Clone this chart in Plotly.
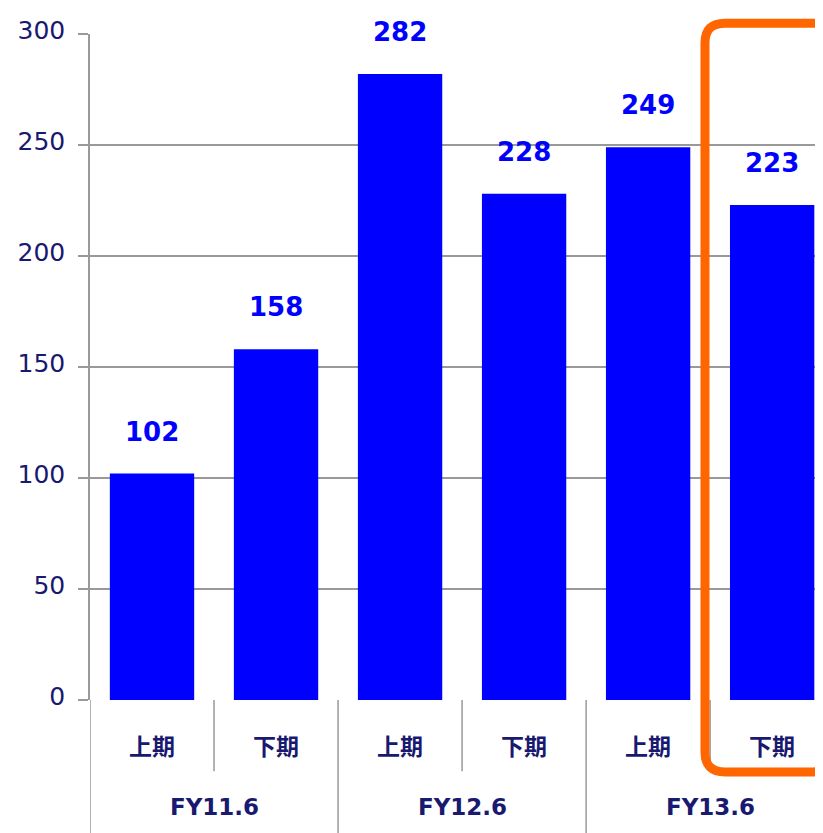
import plotly.graph_objects as go

periods = ["上期", "下期", "上期", "下期", "上期", "下期"]
years = ["FY11.6", "FY12.6", "FY13.6"]
values = [102, 158, 282, 228, 249, 223]

NAVY = "#191970"
GRID = "#999999"

x = list(range(len(values)))

fig = go.Figure()

fig.add_trace(go.Bar(
    x=x,
    y=values,
    width=0.68,
    marker=dict(color="#0000FF", line_width=0),
    hoverinfo="skip",
    showlegend=False
))

annotations = []

# Value labels above bars
for i, v in zip(x, values):
    annotations.append(dict(
        x=i, y=v, xref="x", yref="y",
        text=str(v), showarrow=False,
        yanchor="middle", yshift=42,
        font=dict(family="DejaVu Sans", size=26, color="#0000FF", weight="bold")
    ))

# Period labels (first level)
for i, p in zip(x, periods):
    annotations.append(dict(
        x=i, y=-0.067, xref="x", yref="paper",
        text=p, showarrow=False, yanchor="middle",
        font=dict(family="Noto Sans CJK JP", size=23, color=NAVY, weight="bold")
    ))

# Fiscal year labels (second level)
for j, fy in enumerate(years):
    annotations.append(dict(
        x=2 * j + 0.5, y=-0.16, xref="x", yref="paper",
        text=fy, showarrow=False, yanchor="middle",
        font=dict(family="DejaVu Sans", size=23, color=NAVY, weight="bold")
    ))

shapes = []

# Separators between categories
for j in range(len(years)):
    left = 2 * j - 0.5
    mid = 2 * j + 0.5
    shapes.append(dict(type="line", xref="x", yref="paper",
                       x0=left, x1=left, y0=0, y1=-0.21,
                       line=dict(color=GRID, width=1.5)))
    shapes.append(dict(type="line", xref="x", yref="paper",
                       x0=mid, x1=mid, y0=0, y1=-0.107,
                       line=dict(color=GRID, width=1.5)))

# Orange highlight box round the last bar
xl, xr, yt, yb = 0.839, 1.0136, 1.0163, -0.108
rx, ry = 20 / 733, 20 / 677
path = (
    f"M {xl + rx},{yt} L {xr - rx},{yt} Q {xr},{yt} {xr},{yt - ry} "
    f"L {xr},{yb + ry} Q {xr},{yb} {xr - rx},{yb} "
    f"L {xl + rx},{yb} Q {xl},{yb} {xl},{yb + ry} "
    f"L {xl},{yt - ry} Q {xl},{yt} {xl + rx},{yt} Z"
)
shapes.append(dict(type="path", xref="paper", yref="paper", path=path,
                   line=dict(color="#FF6600", width=9), layer="above"))

# the page puts the figure a few px in from the top-left corner, so margins are trimmed
fig.update_layout(
    width=823,
    height=833,
    margin=dict(l=82, r=8, t=15, b=141),
    plot_bgcolor="white",
    paper_bgcolor="white",
    annotations=annotations,
    shapes=shapes
)

fig.update_xaxes(
    range=[-0.5, 5.41],
    showticklabels=False,
    showgrid=False,
    zeroline=False,
    showline=False
)

fig.update_yaxes(
    range=[0, 300],
    dtick=50,
    showgrid=True,
    gridcolor=GRID,
    gridwidth=1.5,
    zeroline=False,
    showline=True,
    linecolor=GRID,
    linewidth=1.5,
    ticks="outside",
    ticklen=10,
    tickcolor=GRID,
    tickwidth=1.5,
    ticklabelstandoff=8,
    ticklabelshift=-4,
    ticklabeloverflow="allow",
    tickfont=dict(family="DejaVu Sans", size=25, color=NAVY)
)

fig.write_html("out.html")
